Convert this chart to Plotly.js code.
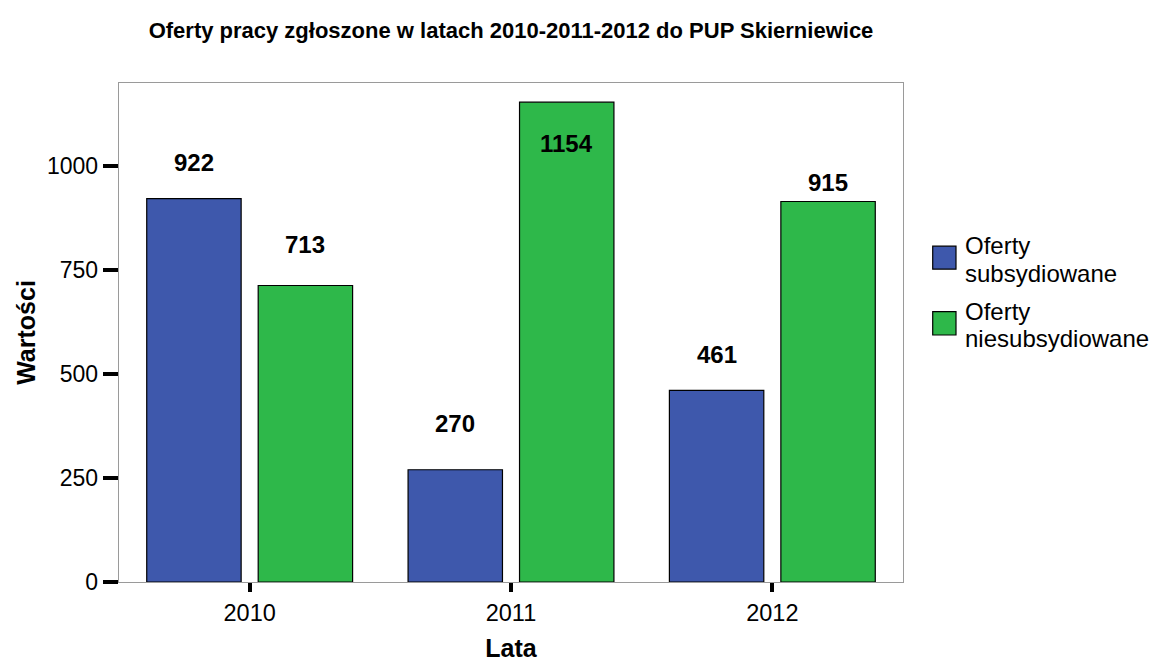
<!DOCTYPE html>
<html>
<head>
<meta charset="utf-8">
<script src="https://cdn.plot.ly/plotly-3.0.1.min.js"></script>
<style>html,body{margin:0;padding:0;background:#fff}</style>
</head>
<body>
<div id="chart" style="width:1154px;height:662px"></div>
<script>
const years = ['2010', '2011', '2012'];
const seriesNames = ['Oferty subsydiowane', 'Oferty niesubsydiowane'];
const legendLines = [['Oferty', 'subsydiowane'], ['Oferty', 'niesubsydiowane']];
const subsidised = [922, 270, 461];
const unsubsidised = [713, 1154, 915];
const yTicks = [0, 250, 500, 750, 1000];
// vertical label shift (px) relative to the bar top, as in the original
const labelShiftSub = [36, 46, 36];
const labelShiftUnsub = [41, -41, 19];

const colors = ['#3E58AC', '#2EB84A'];
const FONT = 'Liberation Sans, Arial, sans-serif';

const bargap = 0.147, bargroupgap = 0.153;
const offs = [-(1 - bargap) / 4, (1 - bargap) / 4];

const traces = [subsidised, unsubsidised].map((vals, k) => ({
  type: 'bar',
  x: years,
  y: vals,
  name: seriesNames[k],
  marker: {color: colors[k], line: {color: '#000', width: 1.2}},
  hoverinfo: 'x+y',
  showlegend: false
}));

const annotations = [];
[[subsidised, labelShiftSub], [unsubsidised, labelShiftUnsub]].forEach(([vals, shifts], k) => {
  vals.forEach((v, i) => {
    annotations.push({
      xref: 'x', yref: 'y', x: i + offs[k], y: v, yshift: shifts[i],
      text: String(v), showarrow: false, yanchor: 'middle', xanchor: 'center',
      font: {family: FONT, size: 24, color: '#000', weight: 'bold'}
    });
  });
});

// custom legend (large swatches as in the original)
const shapes = [];
const legendY = [[0.673, 0.627], [0.5417, 0.495]];
const legendLineY = [[0.674, 0.618], [0.543, 0.487]];
legendLines.forEach((lines, k) => {
  shapes.push({
    type: 'rect', xref: 'paper', yref: 'paper',
    x0: 1.0379, x1: 1.0676, y0: legendY[k][1], y1: legendY[k][0],
    fillcolor: colors[k], line: {color: '#000', width: 1.2}
  });
  lines.forEach((ln, j) => {
    annotations.push({
      xref: 'paper', yref: 'paper', x: 1.0765, y: legendLineY[k][j],
      xanchor: 'left', yanchor: 'middle', align: 'left', showarrow: false,
      text: ln, font: {family: FONT, size: 24, color: '#000'}
    });
  });
});

const layout = {
  width: 1154, height: 662,
  margin: {l: 119, r: 251, t: 83, b: 80},
  paper_bgcolor: '#fff', plot_bgcolor: '#fff',
  font: {family: FONT, color: '#000'},
  bargap: bargap, bargroupgap: bargroupgap, barmode: 'group',
  title: {
    text: 'Oferty pracy zgłoszone w latach 2010-2011-2012 do PUP Skierniewice',
    x: 0.5, xref: 'paper', y: 1 - 30 / 662, yref: 'container', yanchor: 'middle',
    font: {family: FONT, size: 22, color: '#000', weight: 'bold'}
  },
  xaxis: {
    type: 'category', range: [-0.5, 2.5],
    showline: true, mirror: true, linecolor: '#9a9a9a', linewidth: 1.3,
    ticks: 'outside', ticklen: 9, tickwidth: 4, tickcolor: '#000',
    tickfont: {family: FONT, size: 23.5, color: '#000'},
    showgrid: false, zeroline: false,
    title: {text: 'Lata', standoff: 24, font: {family: FONT, size: 25, color: '#000', weight: 'bold'}}
  },
  yaxis: {
    range: [0, 1200], tickvals: yTicks, ticktext: yTicks.map(String),
    showline: true, mirror: true, linecolor: '#9a9a9a', linewidth: 1.3,
    ticks: 'outside', ticklen: 15, tickwidth: 4, tickcolor: '#000',
    tickfont: {family: FONT, size: 23, color: '#000'},
    showgrid: false, zeroline: false,
    title: {text: 'Wartości', standoff: 4, font: {family: FONT, size: 25, color: '#000', weight: 'bold'}}
  },
  shapes: shapes,
  annotations: annotations
};

Plotly.newPlot('chart', traces, layout, {displayModeBar: false, staticPlot: true});
</script>
</body>
</html>
